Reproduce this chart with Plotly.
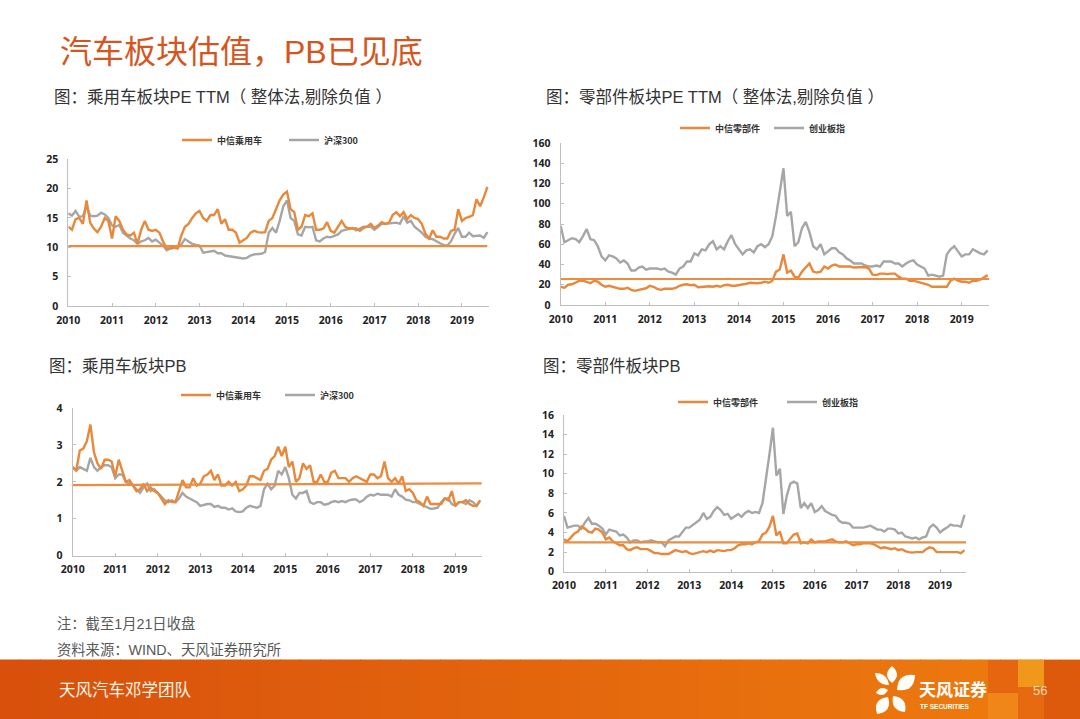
import plotly.graph_objects as go

W = 1080
H = 719

months = [2010 + i / 12 for i in range(116)]
year_ticks = list(range(2010, 2020))

# 乘用车 PE
pe_car = [
    13.5, 13, 14.8, 15, 14, 18, 14.2, 13.2, 12.6, 13.5, 15, 14.5,
    11.5, 15.3, 14.5, 13, 12.2, 12, 12.5, 10.6, 13, 14.5, 13, 12.8,
    13, 12.5, 11, 9.8, 9.8, 10, 9.8, 12, 13.5, 14, 15, 15.8,
    16.2, 15, 14.5, 15.5, 15.5, 16.5, 14, 14.8, 13, 13, 12.5, 10.8,
    11.2, 11.6, 12.5, 12.8, 12.6, 12.5, 12.6, 14.5, 15, 16.5, 18, 19,
    19.5, 16.5, 16, 13, 13.5, 15.5, 15.3, 15.8, 13, 13, 13.2, 14.3,
    12.8, 12.5, 13.5, 14.5, 13.5, 13.2, 13.2, 13.2, 12.8, 13.3, 13.5, 14,
    13.3, 13.7, 14.3, 14, 14.2, 15.5, 16, 15.3, 16, 14.8, 15.5, 15,
    14.8, 14, 12.3, 11.5, 12.9, 11.8, 11.8, 11.5, 11.5, 12.8, 13, 16.5,
    14.5, 15, 15.2, 15.5, 18.2, 17, 18.5, 20.3,
]
pe_hs300 = [
    15.8, 15.4, 16.2, 15.2, 15.3, 17, 15.4, 15.3, 15.4, 15.9, 15.6, 15,
    13.7, 13.5, 13.8, 12.5, 12, 11.5, 11.2, 10.6, 11, 11.2, 11.6, 11,
    11.3, 10.8, 10.3, 9.5, 9.8, 9.9, 10, 10.5, 11.4, 11, 10.6, 10.4,
    10.3, 9.1, 9.2, 9.3, 9.4, 9, 9, 8.6, 8.5, 8.4, 8.3, 8.1,
    8.1, 8.2, 8.6, 8.8, 8.8, 8.9, 9.2, 12.5, 13.3, 12.5, 14.5, 17,
    18, 15, 14.5, 12.2, 12, 13.5, 13.4, 13.5, 11.2, 11, 11.5, 11.8,
    11.7, 11.9, 12.2, 12.8, 13, 13.1, 13.3, 12.9, 13.2, 13.5, 13.5, 13.5,
    13, 13.5, 14, 14, 14.1, 14.2, 14.2, 14, 15.3, 14.2, 14.5, 13.5,
    13, 12.5, 11.8, 11.5, 11.4, 11, 10.7, 10.4, 10.3, 11, 12.3, 13.3,
    11.8, 11.8, 12.5, 11.9, 12, 12, 11.6, 12.6,
]
pe_car_base = [10.2, 10.2]

# 零部件 PE
pe_parts = [
    18, 17, 20, 20.5, 22, 24, 24, 23, 21.5, 24, 23, 20,
    18, 19, 18, 17, 16, 16, 17, 15, 14, 15, 16, 16.5,
    19, 18, 16, 15, 16, 16, 16, 17, 19, 20, 20.5, 19.5,
    20, 17.5, 18, 18, 18.5, 18, 19, 18, 19.5, 20, 19, 19,
    19.5, 20, 21, 22, 21.5, 21.5, 22, 23, 22, 24, 33, 35,
    50, 32, 34, 28, 27, 33, 37, 41, 33, 32, 33, 38,
    36, 39, 40, 38, 38, 38, 38, 37, 37, 37, 37.5, 36,
    30, 29.5, 31, 31, 30.5, 31, 31, 28, 26, 26, 24, 24,
    23, 22.5, 21, 20, 18, 18, 17.5, 18, 18, 24, 26, 24,
    23, 23, 22, 24, 24, 25, 27, 29.5,
]
pe_gem = [
    78, 62, 64, 66, 65, 62, 68, 75, 65, 64, 58, 48,
    44, 49, 48, 46, 42, 44, 41, 34, 34, 37, 38, 35,
    36, 36, 36, 35, 36, 33, 32, 30, 36, 38, 43, 43,
    51, 49, 55, 54, 60, 63, 55, 58, 55, 63, 69, 60,
    55, 50, 54, 55, 52, 58, 60, 57, 60, 68, 88, 110,
    135, 88, 92, 58, 62, 76, 82, 72, 58, 55, 60, 50,
    53, 56, 56, 52, 50, 46, 44, 41, 41, 41, 39, 38,
    38, 39, 38, 43, 43, 43, 41, 41, 38, 41, 43, 44,
    40, 38, 36, 29, 30, 29, 28, 29, 50, 55, 58, 53,
    48, 50, 50, 55, 53, 51, 50, 54,
]
pe_parts_base = [25.7, 25.7]

# 乘用车 PB
pb_car = [
    2.4, 2.3, 2.85, 2.9, 3.1, 3.55, 2.8, 2.5, 2.35, 2.6, 2.6, 2.55,
    2.15, 2.6, 2.3, 2.0, 2.05, 1.9, 1.75, 1.8, 1.95, 1.75, 1.85, 1.75,
    1.7, 1.55, 1.4, 1.5, 1.45, 1.45, 1.75, 2.05, 1.85, 1.85, 2.1, 1.9,
    1.95, 2.15, 2.2, 2.3, 2.05, 2.2, 1.9, 1.9, 2, 1.9, 2, 1.75,
    1.8, 1.9, 2.15, 2.15, 2.1, 2.05, 2.3, 2.35, 2.6, 2.7, 2.95, 2.7,
    2.95, 2.4, 2.55, 2.0, 2.1, 2.5, 2.35, 2.45, 2, 2.0, 2.2, 2.0,
    2, 2.25, 2.3, 2.1, 2.1, 2.1, 2, 2.1, 2.15, 2.1, 2.05, 2,
    2.2, 2.2, 2.1, 2.15, 2.55, 2.1, 2, 2.1, 1.95, 2.15, 1.75, 1.8,
    1.7, 1.5, 1.45, 1.35, 1.6, 1.4, 1.4, 1.4, 1.4, 1.55, 1.5, 1.75,
    1.35, 1.45, 1.45, 1.5, 1.4, 1.35, 1.35, 1.5,
]
pb_hs300 = [
    2.4, 2.3, 2.4, 2.35, 2.3, 2.65, 2.4, 2.3, 2.4, 2.45, 2.45, 2.4,
    2.1, 2.2, 2.2, 2.0, 1.95, 1.9, 1.8, 1.7, 1.85, 1.95, 1.75, 1.8,
    1.7, 1.6, 1.5, 1.45, 1.5, 1.45, 1.55, 1.7, 1.6, 1.55, 1.5, 1.45,
    1.35, 1.38, 1.4, 1.4, 1.32, 1.35, 1.3, 1.3, 1.25, 1.28, 1.2, 1.18,
    1.2, 1.3, 1.35, 1.32, 1.3, 1.35, 1.8, 1.95, 1.8, 1.9, 2.3, 2.2,
    2.4, 2.1, 1.65, 1.55, 1.7, 1.7, 1.75, 1.45, 1.4, 1.45, 1.45, 1.38,
    1.4, 1.45, 1.48, 1.45, 1.48, 1.45, 1.5, 1.52, 1.52, 1.45, 1.5, 1.6,
    1.65, 1.63, 1.68, 1.65, 1.65, 1.65, 1.6, 1.8, 1.65, 1.6, 1.52, 1.5,
    1.45, 1.45, 1.4, 1.35, 1.3, 1.27, 1.28, 1.3, 1.45, 1.55, 1.55, 1.4,
    1.35, 1.45, 1.45, 1.4, 1.5, 1.45, 1.35, 1.5,
]
pb_car_base = [1.91, 1.96]

# 零部件 PB
pb_parts = [
    3.3, 3.1, 3.5, 3.9, 4.1, 4.6, 4.4, 4.1, 4, 4.4, 4.3, 4,
    3.3, 3.5, 3.1, 2.9, 2.7, 2.7, 2.3, 2.2, 2.4, 2.5, 2.3, 2.3,
    2.3, 2.1, 1.9, 1.9, 1.8, 1.8, 1.8, 2, 2.2, 2.1, 2, 2.1,
    1.9, 1.8, 1.9, 2.05, 2.1, 2, 2.15, 2, 2.2, 2.15, 2.1, 2.2,
    2.2, 2.4, 2.7, 2.8, 2.8, 2.9, 2.8, 3, 3.1, 3.8, 4, 4.6,
    5.7, 3.7, 4.1, 2.9, 2.9, 3.4, 3.8, 3.9, 2.9, 3, 2.9, 3.3,
    3, 3.1, 3.1, 3.1, 3.2, 3.3, 3.1, 3, 3, 3.1, 2.9, 2.7,
    2.8, 2.8, 2.9, 2.9, 2.9, 2.8, 2.6, 2.4, 2.5, 2.4, 2.3, 2.4,
    2.2, 2.3, 2.1, 2, 1.95, 2, 2, 2, 2.3, 2.5, 2.4, 2,
    2, 2, 2.05, 2, 2, 2, 1.9, 2.2,
]
pb_gem = [
    5.7, 4.5, 4.6, 4.7, 4.7, 4.4, 5, 5.5, 4.9, 4.9, 4.7, 4.4,
    3.8, 4.3, 4.2, 4.1, 3.7, 3.8, 3.5, 3, 3.2, 3.2, 3, 3.1,
    3.1, 3.2, 3.1, 3, 3, 2.6, 3.2, 3.4, 3.6, 3.6, 4, 4.5,
    4.5, 4.8, 5, 5.3, 6, 5.4, 5.6, 6.2, 6.6, 6.3, 5.8, 5.9,
    5.4, 5.7, 5.9, 5.6, 6, 6.2, 6, 6.1, 6, 7, 9.8, 12,
    14.7, 9.8, 10.5, 5.9, 7.8, 9, 9.2, 9, 6.5, 7, 6.5, 7,
    6.1, 6.3, 6.7, 6.2, 6, 5.8, 5.7, 5.2, 5, 5, 4.9, 4.5,
    4.5, 4.5, 4.5, 4.6, 4.7, 4.5, 4.3, 4.3, 4.1, 4.4, 4.4, 4.3,
    3.9, 4, 3.6, 3.5, 3.4, 3.5, 3.3, 3.5, 3.6, 4.5, 4.8, 4.5,
    4, 4.3, 4.5, 4.8, 4.7, 4.7, 4.6, 5.8,
]
pb_parts_base = [3.0, 3.0]

ORANGE = "#E8883A"
BASE = "#EC8C42"
GRAY = "#A6A6A6"
CJK = "Noto Sans CJK SC"
LATIN_CJK = "Liberation Sans, Noto Sans CJK SC"
NUM = "Open Sans"


def px(x):
    return x / W


def py(y):
    return 1 - y / H


fig = go.Figure()

# 每个小图: 位置都是量出来的像素
panels = [
    dict(n="", left=68.3, right=489, top=159.3, bottom=306, ymax=25, dtick=5,
         s1=pe_car, s2=pe_hs300, base=pe_car_base, base_x=[2009.93, 2019.58],
         name1="中信乘用车", name2="沪深300", leg_x=177, leg_y=140, entry=62),
    dict(n="2", left=560.7, right=989.3, top=143, bottom=305, ymax=160, dtick=20,
         s1=pe_parts, s2=pe_gem, base=pe_parts_base, base_x=[2009.97, 2019.62],
         name1="中信零部件", name2="创业板指", leg_x=675, leg_y=128, entry=49),
    dict(n="3", left=72.7, right=481.7, top=408, bottom=555.7, ymax=4, dtick=1,
         s1=pb_car, s2=pb_hs300, base=pb_car_base, base_x=[2010, 2019.66],
         name1="中信乘用车", name2="沪深300", leg_x=176, leg_y=395, entry=59),
    dict(n="4", left=564, right=966, top=415, bottom=571.7, ymax=16, dtick=2,
         s1=pb_parts, s2=pb_gem, base=pb_parts_base, base_x=[2010, 2019.76],
         name1="中信零部件", name2="创业板指", leg_x=673, leg_y=402, entry=64),
]

layout_args = {}
for p in panels:
    xa, ya = "x" + p["n"], "y" + p["n"]
    legend_id = "legend" + p["n"]
    fig.add_trace(go.Scatter(x=months, y=p["s2"], xaxis=xa, yaxis=ya, mode="lines", name=p["name2"],
                             line=dict(color=GRAY, width=2.4), legend=legend_id, legendrank=2))
    fig.add_trace(go.Scatter(x=months, y=p["s1"], xaxis=xa, yaxis=ya, mode="lines", name=p["name1"],
                             line=dict(color=ORANGE, width=2.4), legend=legend_id, legendrank=1))
    fig.add_trace(go.Scatter(x=p["base_x"], y=p["base"], xaxis=xa, yaxis=ya, mode="lines", showlegend=False,
                             line=dict(color=BASE, width=2.2), cliponaxis=False, hoverinfo="skip"))
    layout_args["xaxis" + p["n"]] = dict(
        domain=[px(p["left"]), px(p["right"])], anchor=ya, range=[2010, 2019.62],
        tickmode="array", tickvals=year_ticks, ticktext=[str(y) for y in year_ticks],
        ticks="inside", ticklen=3, tickcolor="#BFBFBF", showgrid=False, zeroline=False,
        showline=True, linecolor="#BFBFBF", linewidth=1, ticklabelstandoff=4,
        tickfont=dict(family=NUM, size=10.5, color="#222222", weight=700),
    )
    layout_args["yaxis" + p["n"]] = dict(
        domain=[py(p["bottom"]), py(p["top"])], anchor=xa, range=[0, p["ymax"]], dtick=p["dtick"],
        ticks="inside", ticklen=3, tickcolor="#BFBFBF", showgrid=False, zeroline=False,
        showline=True, linecolor="#BFBFBF", linewidth=1, ticklabelstandoff=7,
        tickfont=dict(family=NUM, size=10.5, color="#222222", weight=700),
    )
    layout_args[legend_id] = dict(
        x=px(p["leg_x"]), y=py(p["leg_y"]), xanchor="left", yanchor="middle", orientation="h",
        bgcolor="rgba(0,0,0,0)", font=dict(family=CJK, size=9, color="#333333", weight=700),
        itemwidth=30, entrywidth=p["entry"], tracegroupgap=0, traceorder="normal",
    )

# 底部橙色条,渐变用小矩形拼
shapes = []
grad_left = (216, 80, 12)
grad_right = (238, 124, 14)
n_steps = 54
for i in range(n_steps):
    t = i / (n_steps - 1)
    c = [round(a + (b - a) * t) for a, b in zip(grad_left, grad_right)]
    shapes.append(dict(type="rect", xref="paper", yref="paper", layer="below", line_width=0,
                       x0=px(i * 20), x1=px((i + 1) * 20 + 1), y0=py(719), y1=py(659.5),
                       fillcolor=f"rgb({c[0]},{c[1]},{c[2]})"))

# 右侧色块
for x0, x1, y0, y1, col in [
    (988, 1018, 660, 693, "#E5660F"),
    (1018, 1044, 660, 687, "#F0981C"),
    (1044, 1080, 660, 719, "#DD5A0C"),
    (1018, 1044, 687, 719, "#E86A10"),
    (988, 1018, 693, 719, "#F0851A"),
]:
    shapes.append(dict(type="rect", xref="paper", yref="paper", layer="below", line_width=0,
                       x0=px(x0), x1=px(x1), y0=py(y1), y1=py(y0), fillcolor=col))


def petal(tip_x, tip_y, end_x, end_y, wide):
    # 两段二次曲线画一个花瓣
    mx, my = (tip_x + end_x) / 2, (tip_y + end_y) / 2
    dx, dy = end_x - tip_x, end_y - tip_y
    size = (dx ** 2 + dy ** 2) ** 0.5
    ox, oy = -dy / size * wide, dx / size * wide
    return (f"M {px(tip_x)} {py(tip_y)} "
            f"Q {px(mx + ox)} {py(my + oy)} {px(end_x)} {py(end_y)} "
            f"Q {px(mx - ox)} {py(my - oy)} {px(tip_x)} {py(tip_y)} Z")


for tip_x, tip_y, end_x, end_y, wide in [
    (892, 666, 892, 683, 10),
    (897, 690, 915, 675, 13),
    (875, 673, 889, 685, 8),
    (876, 693, 888, 690, 7),
    (888, 697, 877, 714, 12),
    (893, 696, 905, 712, 11),
]:
    shapes.append(dict(type="path", xref="paper", yref="paper", path=petal(tip_x, tip_y, end_x, end_y, wide),
                       fillcolor="#FFFDF8", line_width=0))

# 标题和文字,标点是全角的
FW_COMMA = "\uff0c"
FW_COLON = "\uff1a"
FW_OPEN = "\uff08"
FW_CLOSE = "\uff09"
note_pe = f"{FW_OPEN} 整体法,剔除负值 {FW_CLOSE}"
texts = [
    (f"汽车板块估值{FW_COMMA}PB已见底", 58, 52, 32, "#D4561F", 400),
    (f"图{FW_COLON}乘用车板块PE TTM{note_pe}", 52, 97, 16.5, "#333333", 400),
    (f"图{FW_COLON}零部件板块PE TTM{note_pe}", 544, 97, 16.5, "#333333", 400),
    (f"图{FW_COLON}乘用车板块PB", 47, 366, 16.5, "#333333", 400),
    (f"图{FW_COLON}零部件板块PB", 541, 366, 16.5, "#333333", 400),
    (f"注{FW_COLON}截至1月21日收盘", 55, 623, 14.3, "#595959", 400),
    (f"资料来源{FW_COLON}WIND、天风证券研究所", 55, 650, 14.3, "#595959", 400),
    ("天风汽车邓学团队", 57, 690, 16.5, "#FFF3E6", 400),
    ("天风证券", 917, 690, 17, "#FFFFFF", 700),
    ("TF SECURITIES", 918, 706, 6.5, "#FFFFFF", 700),
    ("56", 1031, 690, 13, "#F6D9B4", 400),
]
annotations = []
for text, x, y, size, color, weight in texts:
    annotations.append(dict(text=text, x=px(x), y=py(y), xref="paper", yref="paper", xanchor="left",
                            yanchor="middle", showarrow=False, align="left",
                            font=dict(family=LATIN_CJK, size=size, color=color, weight=weight)))

fig.update_layout(
    width=W,
    height=H,
    autosize=False,
    margin=dict(l=0, r=0, t=0, b=0, autoexpand=False),
    paper_bgcolor="white",
    plot_bgcolor="white",
    shapes=shapes,
    annotations=annotations,
    **layout_args,
)

fig.write_html("out.html", config={"displayModeBar": False},
               post_script="document.body.style.margin='0';document.body.style.overflow='hidden';")
